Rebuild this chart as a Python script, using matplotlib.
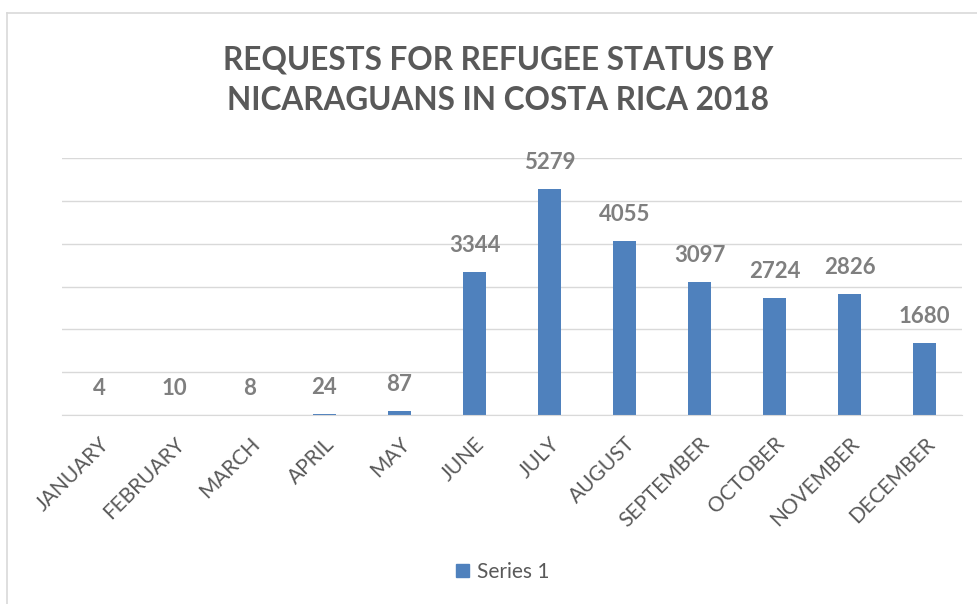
import matplotlib
matplotlib.use("Agg")
import matplotlib.pyplot as plt
from matplotlib.patches import Patch
from matplotlib.lines import Line2D

# chart data
months = ["JANUARY", "FEBRUARY", "MARCH", "APRIL", "MAY", "JUNE", "JULY",
          "AUGUST", "SEPTEMBER", "OCTOBER", "NOVEMBER", "DECEMBER"]
requests = [4, 10, 8, 24, 87, 3344, 5279, 4055, 3097, 2724, 2826, 1680]

plt.rcParams["font.family"] = ["Lato", "DejaVu Sans"]

fig = plt.figure(figsize=(9.77, 6.04), dpi=100)
ax = fig.add_axes([62 / 977, 189 / 604, 900 / 977, 257 / 604])

x = list(range(len(months)))
bars = ax.bar(x, requests, width=0.31, color="#4f81bd", zorder=3)

ax.set_ylim(0, 6000)
ax.set_xlim(-0.5, len(months) - 0.5)
ax.set_yticks(range(0, 6001, 1000))
ax.yaxis.grid(True, color="#d9d9d9", linewidth=1, zorder=0)
ax.tick_params(axis="y", left=False, labelleft=False)
ax.tick_params(axis="x", bottom=False, pad=10)
for side in ["top", "right", "left"]:
    ax.spines[side].set_visible(False)
ax.spines["bottom"].set_color("#d9d9d9")
ax.spines["bottom"].set_zorder(4)

ax.set_xticks(x)
ax.set_xticklabels(months, rotation=45, ha="right", va="top",
                   rotation_mode="anchor", fontsize=15, color="#595959")

# value labels
for xi, v in zip(x, requests):
    ax.annotate(str(v), (xi, v), xytext=(0, 19), textcoords="offset points",
                ha="center", va="center", fontsize=16, fontweight="bold",
                color="#7f7f7f")

fig.text(498 / 977, 1 - 80 / 604,
         "REQUESTS FOR REFUGEE STATUS BY\nNICARAGUANS IN COSTA RICA 2018",
         ha="center", va="center", fontsize=22.7, fontweight="bold",
         color="#595959", linespacing=1.5)

# legend
fig.legend(handles=[Patch(color="#4f81bd", label="Series 1")],
           loc="center", bbox_to_anchor=(503 / 977, 1 - 572 / 604),
           frameon=False, fontsize=15, handlelength=0.62, handleheight=0.62,
           handletextpad=0.4, labelcolor="#595959")

# chart area border
fig.add_artist(Line2D([7 / 977, 1], [1 - 13 / 604, 1 - 13 / 604],
                      transform=fig.transFigure, color="#d9d9d9", linewidth=1.2))
fig.add_artist(Line2D([7 / 977, 7 / 977], [0, 1 - 13 / 604],
                      transform=fig.transFigure, color="#d9d9d9", linewidth=1.2))

fig.savefig("out.png", dpi=100)
